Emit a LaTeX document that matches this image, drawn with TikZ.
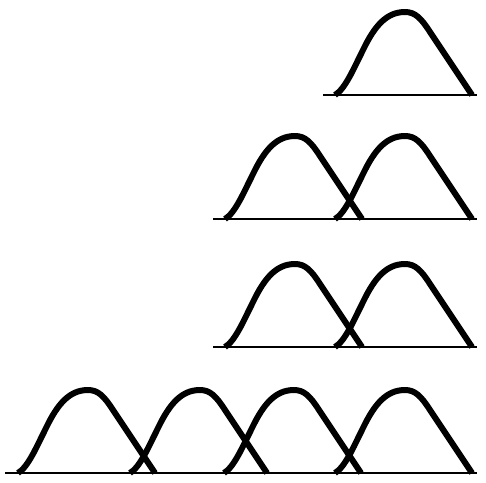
\documentclass[tikz,border=0pt]{standalone}
\begin{document}
\begin{tikzpicture}[x=1pt, y=-1pt,
    curve/.style={line width=6pt, line join=round},
    axis/.style={line width=2.2pt}]

    \useasboundingbox (0,0) rectangle (486,482);

    % --- Baselines ---
    \foreach \xa/\yb in {323/95, 213/219, 213/347, 5/473}
        \draw[axis] (\xa,\yb) -- (477,\yb);

    % --- Bell curves: start x / baseline y ---
    \foreach \xs/\yb in {
        335/95,
        225/219, 335/219,
        225/347, 335/347,
        18/473, 130/473, 224/473, 335/473%
    } {
        \draw[curve, shift={(\xs,\yb)}] (0,0)
            .. controls (10,-6) and (18,-25) .. (28,-45)
            .. controls (40,-70) and (52,-83) .. (70,-83)
            .. controls (80,-83) and (86,-77) .. (95,-63)
            -- (137,0);
    }

\end{tikzpicture}
\end{document}
